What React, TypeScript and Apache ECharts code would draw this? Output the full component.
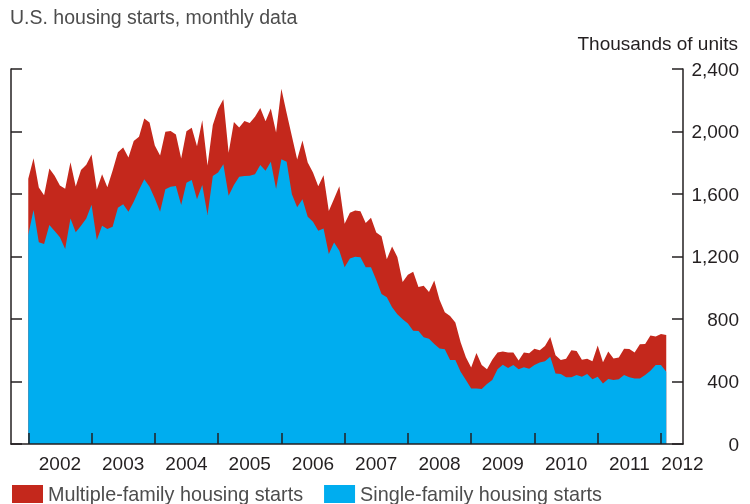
import React, { useEffect, useRef } from "react";
import * as echarts from "echarts";

const START_YEAR = 2002;
const yearTicks = [2002, 2003, 2004, 2005, 2006, 2007, 2008, 2009, 2010, 2011, 2012];
const yearLabelPositions = [2002.5, 2003.5, 2004.5, 2005.5, 2006.5, 2007.5, 2008.5, 2009.5, 2010.5, 2011.5, 2012.34];

// Total housing starts, thousands of units (SAAR), Jan 2002 - Feb 2012
const totalStarts = [
  1698, 1829, 1642, 1592, 1764, 1717, 1655, 1633, 1804, 1648, 1753, 1788,
  1853, 1629, 1726, 1643, 1751, 1867, 1897, 1833, 1939, 1967, 2083, 2057,
  1911, 1846, 1998, 2003, 1981, 1828, 2002, 2024, 1905, 2072, 1782, 2042,
  2144, 2207, 1864, 2061, 2025, 2068, 2054, 2095, 2151, 2065, 2147, 1994,
  2273, 2119, 1969, 1821, 1942, 1802, 1737, 1650, 1720, 1491, 1570, 1649,
  1409, 1480, 1495, 1490, 1415, 1448, 1354, 1330, 1183, 1264, 1197, 1037,
  1084, 1103, 1005, 1013, 973, 1046, 923, 844, 820, 777, 652, 555,
  490, 582, 505, 478, 540, 585, 592, 586, 585, 534, 586, 581,
  610, 600, 628, 685, 568, 538, 546, 600, 595, 540, 545, 530,
  630, 523, 592, 548, 553, 610, 608, 585, 638, 640, 695, 688,
  704, 698,
];

// Single-family housing starts, thousands of units
const singleFamily = [
  1338, 1498, 1291, 1280, 1402, 1363, 1323, 1248, 1444, 1355, 1397, 1444,
  1532, 1306, 1397, 1376, 1391, 1512, 1534, 1487, 1551, 1626, 1694, 1647,
  1572, 1487, 1630, 1647, 1651, 1530, 1672, 1690, 1566, 1658, 1466, 1715,
  1737, 1790, 1589, 1658, 1711, 1715, 1717, 1726, 1786, 1749, 1807, 1632,
  1822, 1807, 1598, 1515, 1566, 1455, 1423, 1365, 1380, 1216, 1289, 1237,
  1131, 1188, 1199, 1195, 1131, 1131, 1050, 960, 939, 875, 830, 798,
  772, 725, 723, 683, 674, 640, 612, 606, 538, 538, 463, 410,
  356, 356, 352, 384, 410, 478, 508, 486, 506, 478, 491, 482,
  506, 521, 529, 559, 452, 448, 427, 427, 442, 431, 448, 414,
  431, 388, 416, 410, 414, 442, 427, 420, 420, 442, 469, 506,
  506, 463,
];

// Multiple-family starts = total - single-family (drawn stacked on top of single-family)
const multiFamily = totalStarts.map((t, i) => t - singleFamily[i]);

const SINGLE_NAME = "Single-family housing starts";
const MULTI_NAME = "Multiple-family housing starts";
const RED = "#c4281c";
const BLUE = "#00adef";
const AXIS = "#231f20";
const FONT = "Liberation Sans";

export default function App() {
  const ref = useRef<HTMLDivElement>(null);

  useEffect(() => {
    if (!ref.current) return;
    const chart = echarts.init(ref.current, null, { renderer: "svg" });
    const monthX = (i: number) => START_YEAR + i / 12;
    const singlePairs = singleFamily.map((v, i) => [monthX(i), v]);
    // top edge of the multi-family band = single + multi
    const multiTopPairs = multiFamily.map((v, i) => [monthX(i), singleFamily[i] + v]);

    const yBase = {
      type: "value",
      min: 0,
      max: 2400,
      interval: 400,
      splitLine: { show: false },
      axisLine: { show: true, lineStyle: { color: AXIS, width: 1.5 } },
      axisTick: { show: true, inside: true, length: 11, lineStyle: { color: AXIS, width: 1.5 } },
      z: 5,
    };

    chart.setOption({
      animation: false,
      textStyle: { fontFamily: FONT },
      title: [
        {
          text: "U.S. housing starts, monthly data",
          left: 5,
          top: 2,
          textStyle: { fontFamily: FONT, fontSize: 19.5, fontWeight: "normal", color: "#4d4d4d" },
        },
        {
          text: "Thousands of units",
          right: 7,
          top: 29,
          textStyle: { fontFamily: FONT, fontSize: 19, fontWeight: "normal", color: AXIS },
        },
      ],
      legend: {
        left: 7,
        top: 479,
        icon: "rect",
        itemWidth: 31,
        itemHeight: 18,
        itemGap: 21,
        data: [MULTI_NAME, SINGLE_NAME],
        textStyle: { fontFamily: FONT, fontSize: 19.8, color: "#4d4d4d" },
      },
      grid: { left: 11, right: 67, top: 69, bottom: 60 },
      xAxis: {
        type: "value",
        min: 2001.727,
        max: 2012.348,
        splitLine: { show: false },
        axisLine: { show: true, lineStyle: { color: AXIS, width: 1.5 } },
        axisTick: {
          show: true,
          inside: true,
          length: 11,
          customValues: yearTicks,
          lineStyle: { color: AXIS, width: 1.5 },
        },
        axisLabel: {
          customValues: yearLabelPositions,
          formatter: (v: number) => String(Math.floor(v + 1e-6)),
          fontFamily: FONT,
          fontSize: 19,
          color: AXIS,
          margin: 10,
        },
        z: 5,
      },
      yAxis: [
        {
          ...yBase,
          position: "left",
          axisLabel: { show: false },
        },
        {
          ...yBase,
          position: "right",
          axisLabel: {
            show: true,
            align: "right",
            margin: 56,
            fontFamily: FONT,
            fontSize: 19,
            color: AXIS,
            formatter: (v: number) => v.toLocaleString("en-US"),
          },
        },
      ],
      series: [
        {
          name: MULTI_NAME,
          type: "line",
          yAxisIndex: 0,
          data: multiTopPairs,
          showSymbol: false,
          symbol: "none",
          lineStyle: { width: 0, color: RED },
          itemStyle: { color: RED },
          areaStyle: { color: RED, opacity: 1 },
          z: 1,
        },
        {
          name: SINGLE_NAME,
          type: "line",
          yAxisIndex: 0,
          data: singlePairs,
          showSymbol: false,
          symbol: "none",
          lineStyle: { width: 0, color: BLUE },
          itemStyle: { color: BLUE },
          areaStyle: { color: BLUE, opacity: 1 },
          z: 2,
        },
      ],
    });

    return () => chart.dispose();
  }, []);

  return (
    <div
      ref={ref}
      style={{ position: "fixed", left: 0, top: 0, width: 750, height: 504 }}
    />
  );
}
